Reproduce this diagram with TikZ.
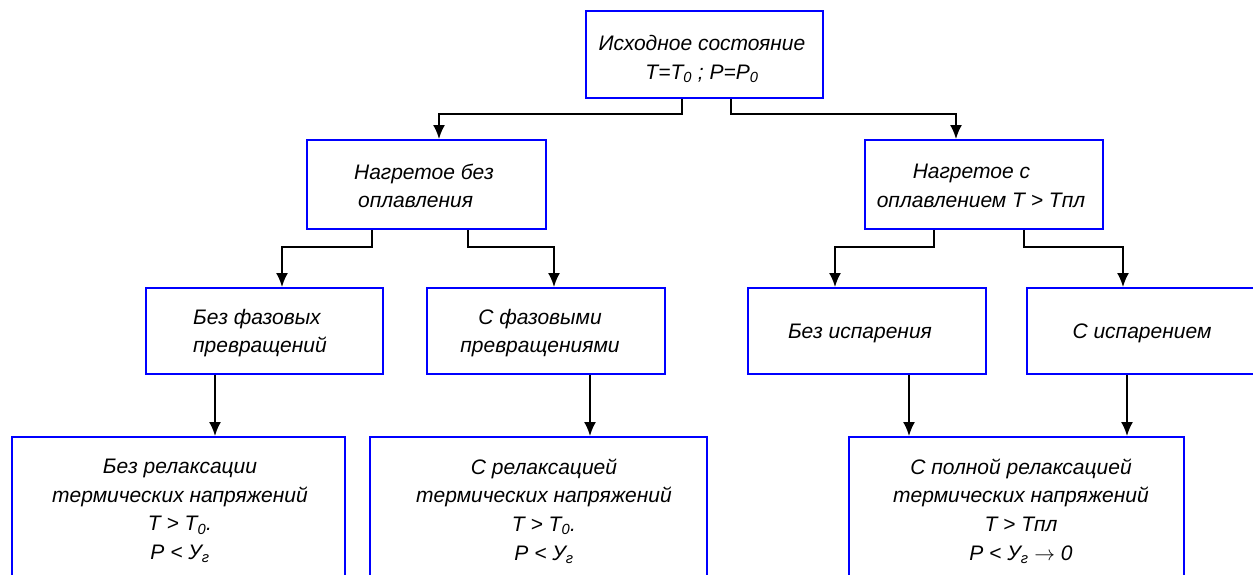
\documentclass[tikz,border=0pt]{standalone}
\usepackage{fontspec}
\setmainfont{Liberation Sans}
\usetikzlibrary{arrows.meta}
\begin{document}
\begin{tikzpicture}[x=1pt,y=-1pt,
  box/.style={draw=blue,line width=1.8pt,rectangle,anchor=north west,inner sep=0pt},
  lbl/.style={font=\itshape\fontsize{21}{28.7}\selectfont,align=center,inner sep=0pt},
  arr/.style={draw=black,line width=1.8pt,-{Latex[length=14pt,width=12pt]}}]
\useasboundingbox (0,0) rectangle (1253,574);
\clip (0,0) rectangle (1253,574);
\fill[white] (0,0) rectangle (1253,574);
% boxes
\node[box,minimum width=237pt,minimum height=87pt] (top) at (585,10) {};
\node[box,minimum width=239pt,minimum height=89pt] (n2) at (306,139) {};
\node[box,minimum width=238pt,minimum height=89pt] (n3) at (864,139) {};
\node[box,minimum width=237pt,minimum height=86pt] (a) at (145,287) {};
\node[box,minimum width=238pt,minimum height=86pt] (b) at (426,287) {};
\node[box,minimum width=238pt,minimum height=86pt] (c) at (747,287) {};
\node[box,minimum width=240pt,minimum height=86pt] (d) at (1026,287) {};
\node[box,minimum width=333pt,minimum height=170pt] (e) at (11,436) {};
\node[box,minimum width=337pt,minimum height=170pt] (f) at (369,436) {};
\node[box,minimum width=335pt,minimum height=170pt] (g) at (848,436) {};
% texts
\node[lbl] (tt) at (702,59) {Исходное состояние\\T=T\textsubscript{0} ; P=P\textsubscript{0}};
\node[lbl,align=left] (t2) at (424,186) {Нагретое без\\\hspace{4pt}оплавления};
\node[lbl,align=left] (t3) at (981,186) {\hspace{36pt}Нагретое с\\оплавлением T > Tпл};
\node[lbl,align=left] (ta) at (260,333) {Без фазовых\\превращений};
\node[lbl] (tb) at (540,333) {С фазовыми\\превращениями};
\node[lbl] (tc) at (860,333) {Без испарения};
\node[lbl] (td) at (1142,333) {С испарением};
\node[lbl] (te) at (180,511) {Без релаксации\\термических напряжений\\T > T\textsubscript{0}.\\P < У\textsubscript{г}};
\node[lbl] (tf) at (544,511) {С релаксацией\\термических напряжений\\T > T\textsubscript{0}.\\P < У\textsubscript{г}};
\node[lbl] (tg) at (1021,511) {С полной релаксацией\\термических напряжений\\T > Tпл\\P < У\textsubscript{г} $\rightarrow$ 0};
% connectors
\draw[arr] (top.south -| 682,0) -- (682,114) -| (n2.north -| 439,0);
\draw[arr] (top.south -| 731,0) -- (731,114) -| (n3.north -| 956,0);
\draw[arr] (n2.south -| 372,0) -- (372,247) -| (a.north -| 282,0);
\draw[arr] (n2.south -| 468,0) -- (468,247) -| (b.north -| 554,0);
\draw[arr] (n3.south -| 934,0) -- (934,247) -| (c.north -| 835,0);
\draw[arr] (n3.south -| 1024,0) -- (1024,247) -| (d.north -| 1123,0);
\draw[arr] (a.south -| 215,0) -- (e.north -| 215,0);
\draw[arr] (b.south -| 590,0) -- (f.north -| 590,0);
\draw[arr] (c.south -| 909,0) -- (g.north -| 909,0);
\draw[arr] (d.south -| 1127,0) -- (g.north -| 1127,0);
\end{tikzpicture}
\end{document}
